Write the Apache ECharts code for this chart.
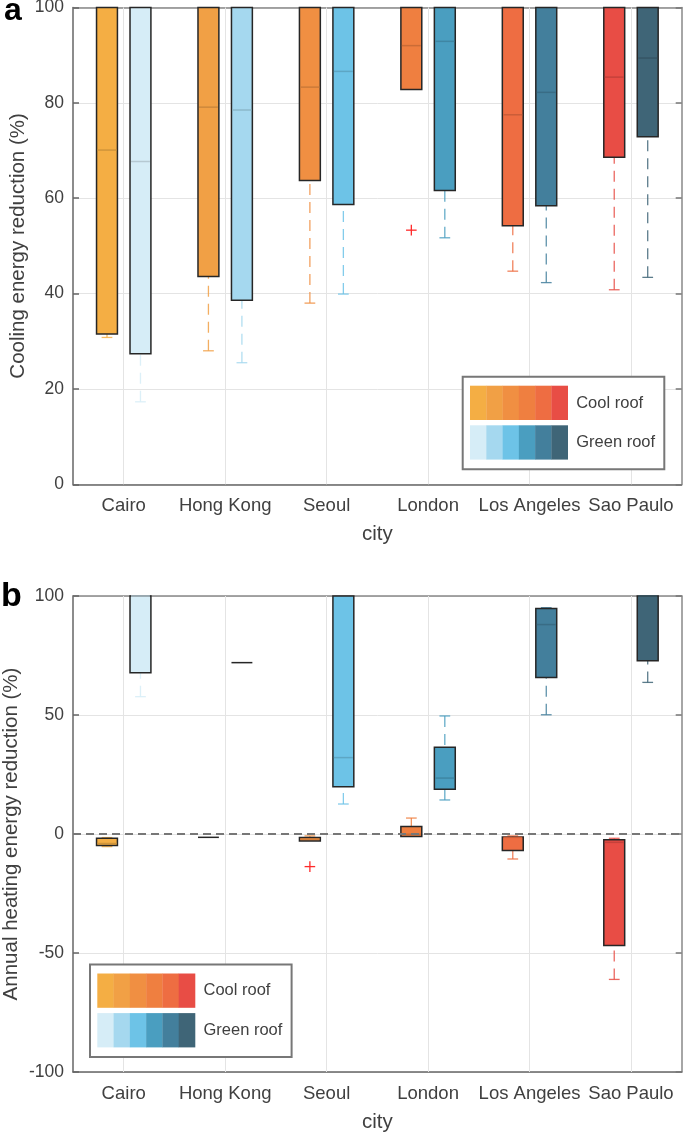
<!DOCTYPE html>
<html>
<head>
<meta charset="utf-8">
<script src="https://cdn.jsdelivr.net/npm/echarts@6/dist/echarts.min.js"></script>
<style>
html,body{margin:0;padding:0;background:#fff;}
#chart{width:685px;height:1132px;}
</style>
</head>
<body>
<div id="chart"></div>
<script>
// ---- data ----
const cities = ['Cairo', 'Hong Kong', 'Seoul', 'London', 'Los Angeles', 'Sao Paulo'];
const coolColors = ['#F4AE44', '#F1A045', '#F08F42', '#EF7F40', '#EE6D42', '#E84D45'];
const greenColors = ['#D6EDF7', '#A5D8EF', '#6DC3E7', '#4A9EC0', '#437F9C', '#3F6577'];
const legendNames = ['Cool roof', 'Green roof'];

// [lower whisker, Q1, median, Q3, upper whisker]
const coolingCool = [
  [30.8, 31.5, 70.1, 100, 100],
  [28.0, 43.6, 79.1, 100, 100],
  [38.0, 63.7, 83.3, 100, 100],
  [82.8, 82.8, 92.0, 100, 100],
  [44.7, 54.2, 77.5, 100, 100],
  [40.8, 68.6, 85.4, 100, 100]
];
const coolingGreen = [
  [17.3, 27.4, 67.7, 100, 100],
  [25.5, 38.6, 78.5, 100, 100],
  [39.9, 58.7, 86.6, 100, 100],
  [51.7, 61.6, 92.9, 100, 100],
  [42.3, 58.4, 82.2, 100, 100],
  [43.4, 72.9, 89.4, 100, 100]
];
const heatingCool = [
  [-5.3, -4.8, -4.0, -1.8, -1.5],
  [-1.4, -1.4, -1.4, -1.4, -1.4],
  [-2.9, -2.9, -2.1, -1.5, -0.8],
  [-1.1, -1.1, -0.1, 3.1, 6.7],
  [-10.5, -6.9, -1.4, -1.3, -0.8],
  [-61.1, -46.9, -3.5, -2.4, -1.8]
];
const heatingGreen = [
  [57.7, 67.8, 100, 100, 100],
  [72.0, 72.0, 72.0, 72.0, 72.0],
  [12.6, 19.9, 32.1, 100, 100],
  [14.3, 18.8, 23.5, 36.4, 49.6],
  [50.1, 65.8, 88.0, 94.7, 95.1],
  [63.7, 72.8, 100, 100, 100]
];
// outliers: [city index, value]
const coolingCoolOutliers = [[3, 53.3]];
const heatingCoolOutliers = [[2, -13.7]];

const coolingTicks = {min: 0, max: 100, interval: 20};
const heatingTicks = {min: -100, max: 100, interval: 50};

// ---- helpers ----
const FONT = "'Liberation Sans', Arial, sans-serif";
const TXT = '#404040';
function darken(hex, f) {
  const n = parseInt(hex.slice(1), 16);
  const r = Math.round(((n >> 16) & 255) * f), g = Math.round(((n >> 8) & 255) * f), b = Math.round((n & 255) * f);
  return 'rgb(' + r + ',' + g + ',' + b + ')';
}

function boxSeries(gi, stats, colors, side) {
  return {
    type: 'custom', xAxisIndex: gi * 2, yAxisIndex: gi * 2, z: 3,
    data: stats.map((s, i) => [i].concat(s)),
    encode: {x: 0, y: [1, 2, 3, 4, 5]},
    renderItem: function (params, api) {
      const i = api.value(0);
      const band = api.size([1, 0])[0];
      const cx = api.coord([i, 0])[0] + side * band * 0.165;
      const hw = band * 0.103, cw = band * 0.053;
      const py = k => api.coord([i, api.value(k)])[1];
      const lw = py(1), q1 = py(2), md = py(3), q3 = py(4), uw = py(5);
      const col = colors[i];
      const ch = [];
      const wStyle = {stroke: col, lineWidth: 1.3, lineDash: [11, 7], opacity: 0.85};
      const cStyle = {stroke: col, lineWidth: 1.3, opacity: 0.85};
      if (lw - q1 > 0.5) {
        ch.push({type: 'line', shape: {x1: cx, y1: lw, x2: cx, y2: q1}, style: wStyle});
        ch.push({type: 'line', shape: {x1: cx - cw, y1: lw, x2: cx + cw, y2: lw}, style: cStyle});
      }
      if (q3 - uw > 0.5) {
        ch.push({type: 'line', shape: {x1: cx, y1: uw, x2: cx, y2: q3}, style: wStyle});
        ch.push({type: 'line', shape: {x1: cx - cw, y1: uw, x2: cx + cw, y2: uw}, style: cStyle});
      }
      if (q1 - q3 < 1) {
        ch.push({type: 'line', shape: {x1: cx - hw, y1: md, x2: cx + hw, y2: md},
          style: {stroke: '#262626', lineWidth: 1.5}});
      } else {
        ch.push({type: 'rect', shape: {x: cx - hw, y: q3, width: 2 * hw, height: q1 - q3},
          style: {fill: col, stroke: '#262626', lineWidth: 1.5}});
        ch.push({type: 'line', shape: {x1: cx - hw + 1, y1: md, x2: cx + hw - 1, y2: md},
          style: {stroke: darken(col, 0.85), lineWidth: 1.5}});
      }
      return {type: 'group', children: ch};
    }
  };
}

function outlierSeries(gi, pts, side) {
  return {
    type: 'custom', xAxisIndex: gi * 2, yAxisIndex: gi * 2, z: 4,
    data: pts, encode: {x: 0, y: 1},
    renderItem: function (params, api) {
      const i = api.value(0);
      const band = api.size([1, 0])[0];
      const p = api.coord([i, api.value(1)]);
      const cx = p[0] + side * band * 0.165, cy = p[1], h = 5.3;
      const st = {stroke: '#FF2A2A', lineWidth: 1.3};
      return {type: 'group', children: [
        {type: 'line', shape: {x1: cx - h, y1: cy, x2: cx + h, y2: cy}, style: st},
        {type: 'line', shape: {x1: cx, y1: cy - h, x2: cx, y2: cy + h}, style: st}
      ]};
    }
  };
}

function vGridSeries(gi) {
  return {
    type: 'line', xAxisIndex: gi * 2, yAxisIndex: gi * 2, z: 1, data: [], silent: true,
    markLine: {silent: true, symbol: 'none', label: {show: false}, animation: false,
      lineStyle: {color: '#e4e4e4', width: 1, type: 'solid'},
      data: cities.map(c => ({xAxis: c}))}
  };
}

const grids = [
  {left: 73, top: 7.5, width: 608.7, height: 476.8, outerBoundsMode: 'none', containLabel: false},
  {left: 73, top: 596, width: 608.7, height: 476, outerBoundsMode: 'none', containLabel: false}
];

function xAxes(gi) {
  return [
    {type: 'category', gridIndex: gi, data: cities, position: 'bottom',
      axisLine: {onZero: false, lineStyle: {color: '#666', width: 1.5}},
      axisTick: {inside: true, alignWithLabel: true, length: 6, lineStyle: {color: '#666', width: 1.5}},
      axisLabel: {fontSize: 18.5, color: TXT, margin: 12, fontFamily: FONT, interval: 0},
      splitLine: {show: false},
      name: 'city', nameLocation: 'middle', nameGap: 40,
      nameTextStyle: {fontSize: 20.5, color: TXT, fontFamily: FONT}},
    {type: 'category', gridIndex: gi, data: cities, position: 'top',
      axisLine: {onZero: false, lineStyle: {color: '#888', width: 1.5}},
      axisTick: {inside: true, alignWithLabel: true, length: 6, lineStyle: {color: '#777', width: 1.5}},
      axisLabel: {show: false}, splitLine: {show: false}}
  ];
}
function yAxes(gi, ticks, name, gap) {
  return [
    {type: 'value', gridIndex: gi, position: 'left', min: ticks.min, max: ticks.max, interval: ticks.interval,
      axisLine: {show: true, onZero: false, lineStyle: {color: '#666', width: 1.5}},
      axisTick: {show: true, inside: true, length: 6, lineStyle: {color: '#666', width: 1.5}},
      axisLabel: {fontSize: 17.5, color: TXT, margin: 9, fontFamily: FONT},
      splitLine: {show: true, lineStyle: {color: '#e4e4e4', width: 1}},
      name: name, nameLocation: 'middle', nameRotate: 90, nameGap: gap, nameMoveOverlap: false,
      nameTextStyle: {fontSize: 20.5, color: TXT, fontFamily: FONT}},
    {type: 'value', gridIndex: gi, position: 'right', min: ticks.min, max: ticks.max, interval: ticks.interval,
      axisLine: {show: true, onZero: false, lineStyle: {color: '#888', width: 1.5}},
      axisTick: {show: true, inside: true, length: 6, lineStyle: {color: '#777', width: 1.5}},
      axisLabel: {show: false}, splitLine: {show: false}}
  ];
}

function legendGraphic(x0, y0) {
  const els = [];
  els.push({type: 'rect', shape: {x: x0, y: y0, width: 201.6, height: 92.6},
    style: {fill: '#fff', stroke: '#777', lineWidth: 2}, z: 20});
  const sw = 97.7 / 6;
  [coolColors, greenColors].forEach((cols, r) => {
    const sy = y0 + 9 + r * 39.6;
    cols.forEach((c, k) => {
      els.push({type: 'rect', shape: {x: x0 + 7.3 + k * sw, y: sy, width: sw + 0.3, height: 34.3},
        style: {fill: c}, z: 21});
    });
    els.push({type: 'text', x: x0 + 113.5, y: sy + 17.3, z: 21,
      style: {text: legendNames[r], font: '16.5px ' + FONT, fill: TXT, verticalAlign: 'middle', align: 'left'}});
  });
  return els;
}

const chart = echarts.init(document.getElementById('chart'), null, {renderer: 'canvas'});
chart.setOption({
  animation: false,
  backgroundColor: '#fff',
  grid: grids,
  xAxis: xAxes(0).concat(xAxes(1)),
  yAxis: yAxes(0, coolingTicks, 'Cooling energy reduction (%)', 44)
    .concat(yAxes(1, heatingTicks, 'Annual heating energy reduction (%)', 51)),
  series: [
    vGridSeries(0), vGridSeries(1),
    boxSeries(0, coolingCool, coolColors, -1),
    boxSeries(0, coolingGreen, greenColors, 1),
    outlierSeries(0, coolingCoolOutliers, -1),
    boxSeries(1, heatingCool, coolColors, -1),
    boxSeries(1, heatingGreen, greenColors, 1),
    outlierSeries(1, heatingCoolOutliers, -1),
    {type: 'line', xAxisIndex: 2, yAxisIndex: 2, data: [], z: 10, silent: true,
      markLine: {silent: true, symbol: 'none', label: {show: false}, animation: false, z: 10,
        lineStyle: {color: '#777', width: 2, type: [8, 5]},
        data: [{yAxis: 0}]}}
  ],
  graphic: [
    {type: 'text', x: 4, y: 11, style: {text: 'a', font: 'bold 32px ' + FONT, fill: '#000', verticalAlign: 'middle'}},
    {type: 'text', x: 1, y: 597, style: {text: 'b', font: 'bold 34px ' + FONT, fill: '#000', verticalAlign: 'middle'}}
  ].concat(legendGraphic(462.7, 376.7)).concat(legendGraphic(90, 964.5))
});
</script>
</body>
</html>
